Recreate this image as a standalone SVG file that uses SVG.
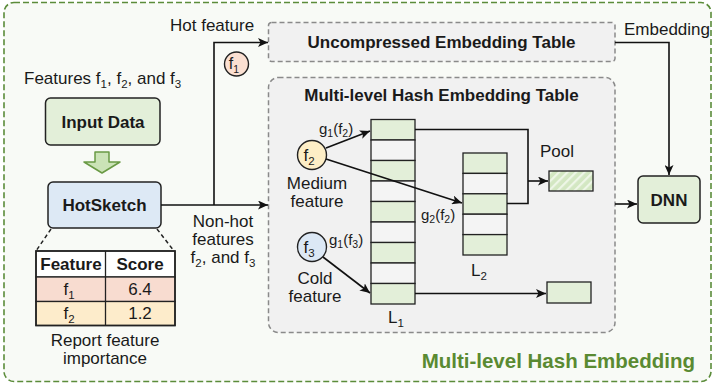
<svg xmlns="http://www.w3.org/2000/svg" width="716" height="385" viewBox="0 0 716 385">
<style>
text{font-family:"Liberation Sans",Arial,sans-serif;fill:#1a1a1a}
.r{font-size:17px}
.b{font-size:17px;font-weight:bold}
.sm{font-size:15px}
.sb{font-size:11.5px}
.ssm{font-size:10.5px}
.box{stroke:#222;stroke-width:1.5}
.cell{stroke:#222;stroke-width:1.3}
.g{fill:#e3efd9}
.w{fill:#f4f4f4}
.ln{fill:none;stroke:#111;stroke-width:1.6}
.dsh{fill:#f1f1f1;stroke:#8a8a8a;stroke-width:1.5;stroke-dasharray:5 3}
</style>
<defs>
<marker id="ah" markerUnits="userSpaceOnUse" markerWidth="11" markerHeight="9" refX="10" refY="4.5" orient="auto">
<path d="M0,0 L10,4.5 L0,9 L2.5,4.5 z" fill="#111"/>
</marker>
<pattern id="hatch" patternUnits="userSpaceOnUse" width="6" height="6" patternTransform="rotate(45)">
<rect width="6" height="6" fill="#d3e7c2"/>
<rect width="2.2" height="6" fill="#eef6e7"/>
</pattern>
</defs>
<rect x="0" y="0" width="716" height="385" fill="#ffffff"/>
<rect id="outer" x="4" y="2.5" width="707" height="379" rx="10" fill="#f8faf6" stroke="#5b8c3a" stroke-width="1.6" stroke-dasharray="6 3"/>
<text x="695" y="368" text-anchor="end" style="font-size:20.5px;font-weight:bold;fill:#5a8a32">Multi-level Hash Embedding</text>

<g id="features-label"><text class="r" x="24" y="84">Features f<tspan class="sb" dy="4">1</tspan><tspan dy="-4">, f</tspan><tspan class="sb" dy="4">2</tspan><tspan dy="-4">, and f</tspan><tspan class="sb" dy="4">3</tspan></text></g>

<g id="input-data"><rect class="box g" x="45.5" y="98" width="114.5" height="47" rx="5"/><text class="b" x="103" y="128" text-anchor="middle">Input Data</text></g>

<g id="down-arrow"><polygon points="95,152 109,152 109,162 120,162 102,173 84,162 95,162" fill="#cbe3b7" stroke="#6a9a45" stroke-width="1.5" stroke-linejoin="round"/></g>

<g id="hotsketch"><rect class="box" fill="#dde9f5" x="48" y="182" width="113" height="46" rx="5"/><text class="b" x="104.5" y="211" text-anchor="middle">HotSketch</text></g>

<g id="score-table">
<line x1="51" y1="229" x2="36" y2="251" stroke="#222" stroke-width="1.5" stroke-dasharray="4 3"/>
<line x1="157" y1="229" x2="174" y2="251" stroke="#222" stroke-width="1.5" stroke-dasharray="4 3"/>
<rect x="36" y="251" width="139" height="26" fill="#ffffff" class="cell"/>
<rect x="36" y="277" width="139" height="24.5" fill="#f8dcd0" class="cell"/>
<rect x="36" y="301.5" width="139" height="24" fill="#fdeccb" class="cell"/>
<line x1="105.5" y1="251" x2="105.5" y2="325.5" class="cell"/>
<rect x="36" y="251" width="139" height="74.5" fill="none" stroke="#222" stroke-width="1.6"/>
<text class="b" x="71" y="270" text-anchor="middle">Feature</text>
<text class="b" x="140" y="270" text-anchor="middle">Score</text>
<text class="r" x="69" y="295" text-anchor="middle">f<tspan class="sb" dy="4">1</tspan></text>
<text class="r" x="140" y="295" text-anchor="middle">6.4</text>
<text class="r" x="69" y="319" text-anchor="middle">f<tspan class="sb" dy="4">2</tspan></text>
<text class="r" x="140" y="319" text-anchor="middle">1.2</text>
<text class="r" x="105" y="346" text-anchor="middle">Report feature</text>
<text class="r" x="105" y="364" text-anchor="middle">importance</text>
</g>

<g id="hot-label"><text class="r" x="170" y="31">Hot feature</text></g>
<g id="f1"><circle cx="236.5" cy="64" r="12" fill="#fbe0d2" stroke="#222" stroke-width="1.4"/><text class="r" x="234" y="69" text-anchor="middle" style="font-size:16px">f<tspan class="ssm" dy="4">1</tspan></text></g>
<g id="nonhot-label">
<text class="r" x="223" y="227" text-anchor="middle">Non-hot</text>
<text class="r" x="223" y="245" text-anchor="middle">features</text>
<text class="r" x="223" y="263" text-anchor="middle">f<tspan class="sb" dy="4">2</tspan><tspan dy="-4">, and f</tspan><tspan class="sb" dy="4">3</tspan></text>
</g>

<g id="uncompressed-table"><rect class="dsh" x="268.5" y="22.5" width="346.5" height="39" rx="3"/><text class="b" x="441.5" y="48" text-anchor="middle">Uncompressed Embedding Table</text></g>
<g id="embedding-label"><text class="r" x="624" y="35">Embedding</text></g>

<g id="mlh-table">
<rect class="dsh" x="268.5" y="77.5" width="346.5" height="255" rx="10"/>
<text class="b" x="441.5" y="101" text-anchor="middle">Multi-level Hash Embedding Table</text>
</g>

<g id="L1">
<rect class="cell g" x="371" y="119.5" width="44" height="20.5"/>
<rect class="cell w" x="371" y="140" width="44" height="20.5"/>
<rect class="cell g" x="371" y="160.5" width="44" height="20.5"/>
<rect class="cell w" x="371" y="181" width="44" height="20.5"/>
<rect class="cell g" x="371" y="201.5" width="44" height="20.5"/>
<rect class="cell w" x="371" y="222" width="44" height="20.5"/>
<rect class="cell g" x="371" y="242.5" width="44" height="20.5"/>
<rect class="cell w" x="371" y="263" width="44" height="20.5"/>
<rect class="cell g" x="371" y="283.5" width="44" height="20.5"/>
<text class="r" x="388" y="323">L<tspan class="sb" dy="4">1</tspan></text>
</g>

<g id="L2">
<rect class="cell g" x="463" y="153" width="44" height="20.4"/>
<rect class="cell w" x="463" y="173.4" width="44" height="20.4"/>
<rect class="cell g" x="463" y="193.8" width="44" height="20.4"/>
<rect class="cell w" x="463" y="214.2" width="44" height="20.4"/>
<rect class="cell g" x="463" y="234.6" width="44" height="20.4"/>
<text class="r" x="471" y="276">L<tspan class="sb" dy="4">2</tspan></text>
</g>

<g id="f2"><circle cx="312" cy="155" r="14.5" fill="#fdeec6" stroke="#222" stroke-width="1.4"/><text class="r" x="309" y="161" text-anchor="middle">f<tspan class="sb" dy="4">2</tspan></text>
<text class="r" x="317" y="189" text-anchor="middle">Medium</text><text class="r" x="317" y="207" text-anchor="middle">feature</text></g>
<g id="f3"><circle cx="312" cy="247" r="14.5" fill="#dce8f5" stroke="#222" stroke-width="1.4"/><text class="r" x="309" y="253" text-anchor="middle">f<tspan class="sb" dy="4">3</tspan></text>
<text class="r" x="315" y="284" text-anchor="middle">Cold</text><text class="r" x="315" y="302" text-anchor="middle">feature</text></g>

<g id="hash-labels">
<text class="sm" x="319" y="134">g<tspan class="ssm" dy="3">1</tspan><tspan dy="-3">(f</tspan><tspan class="ssm" dy="3">2</tspan><tspan dy="-3">)</tspan></text>
<text class="sm" x="421" y="220">g<tspan class="ssm" dy="3">2</tspan><tspan dy="-3">(f</tspan><tspan class="ssm" dy="3">2</tspan><tspan dy="-3">)</tspan></text>
<text class="sm" x="329" y="245">g<tspan class="ssm" dy="3">1</tspan><tspan dy="-3">(f</tspan><tspan class="ssm" dy="3">3</tspan><tspan dy="-3">)</tspan></text>
<text class="r" x="540" y="157">Pool</text>
</g>

<g id="pool"><rect x="549" y="171" width="44" height="20" fill="url(#hatch)" class="cell"/></g>
<g id="cold-out"><rect x="547" y="282" width="44" height="21" class="cell g"/></g>

<g id="dnn"><rect class="box g" x="638" y="176" width="62" height="47" rx="5"/><text class="b" x="669" y="206" text-anchor="middle">DNN</text></g>

<g id="connectors">
<path class="ln" d="M161,205 L268,205" marker-end="url(#ah)"/>
<path class="ln" d="M214,205 L214,42.5 L268,42.5" marker-end="url(#ah)"/>
<path class="ln" d="M615,42.5 L669,42.5 L669,175" marker-end="url(#ah)"/>
<path class="ln" d="M615,204 L637,204" marker-end="url(#ah)"/>
<path class="ln" d="M326,148 L370,131" marker-end="url(#ah)"/>
<path class="ln" d="M326,159 L462,203" marker-end="url(#ah)"/>
<path class="ln" d="M323,257 L370,293" marker-end="url(#ah)"/>
<path class="ln" d="M415,129.5 L528,129.5 L528,203.5 L507,203.5"/>
<path class="ln" d="M528,181 L548,181" marker-end="url(#ah)"/>
<path class="ln" d="M415,293.5 L546,293.5" marker-end="url(#ah)"/>
</g>
</svg>
